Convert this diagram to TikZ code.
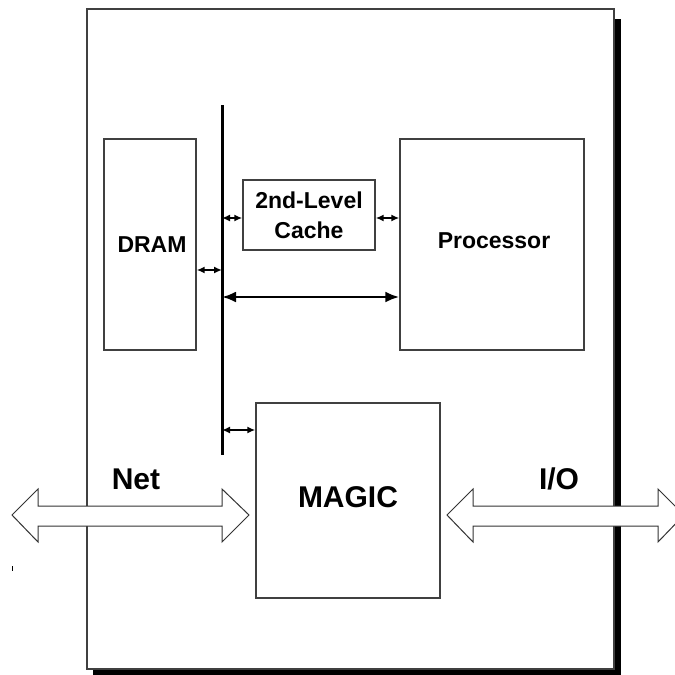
\documentclass[tikz,border=0pt]{standalone}
\usepackage{fontspec}
\setmainfont{Liberation Sans}
\usetikzlibrary{arrows.meta}
\begin{document}
\begin{tikzpicture}[x=1pt,y=-1pt,
  frame/.style={draw=black!75,line width=1.4pt},
  unit/.style={frame,fill=white,inner sep=0pt},
  lbl/.style={font=\fontsize{23}{26}\selectfont\bfseries,align=center},
  biglbl/.style={font=\fontsize{30}{34}\selectfont\bfseries},
  link/.style={line width=1.8pt,{Latex[length=8pt,width=7pt]}-{Latex[length=8pt,width=7pt]}},
  wide/.style={line width=2.6pt,{Latex[length=14pt,width=11pt]}-{Latex[length=14pt,width=11pt]}},
  fat/.style={draw=black!80,line width=1pt,fill=white,line join=miter}]
\useasboundingbox (0,0) rectangle (675,675);

% board with drop shadow
\fill[black] (93,19) rectangle (621,680);
\draw[frame,fill=white] (87,9) rectangle (614,669);

% memory bus
\coordinate (btop) at (222,105);
\coordinate (bbot) at (222,455);
\draw[line width=3pt] (btop) -- (bbot);

% units on the board
\node[unit,minimum width=92pt,minimum height=211pt] (dram) at (150,244.5) {};
\node[lbl] at (152,245) {DRAM};
\node[unit,minimum width=132pt,minimum height=70pt] (cache) at (309,215) {};
\node[lbl,font=\fontsize{23}{30}\selectfont\bfseries] at (cache) {2nd-Level\\Cache};
\node[unit,minimum width=184pt,minimum height=211pt] (cpu) at (492,244.5) {};
\node[lbl] at (494,241) {Processor};
\node[unit,minimum width=184pt,minimum height=195pt] (magic) at (348,500.5) {};
\node[biglbl] at (348,497) {MAGIC};

% bus connections
\draw[link] (dram.east |- 0,270) -- (222,270);
\draw[link] (222,218) -- (cache.west |- 0,218);
\draw[link] (cache.east |- 0,218) -- (cpu.west |- 0,218);
\draw[wide] (222,297) -- (cpu.west |- 0,297);
\draw[link] (222,430) -- (magic.west |- 0,430);

% network and I/O ports
\draw[fat] (12,515) -- (38,489) -- (38,506) -- (222,506) -- (222,489) -- (249,515)
  -- (222,542) -- (222,526) -- (38,526) -- (38,542) -- cycle;
\draw[fat] (447,515) -- (473,489) -- (473,506) -- (658,506) -- (658,489) -- (684,515)
  -- (658,542) -- (658,526) -- (473,526) -- (473,542) -- cycle;
\node[biglbl] (net) at (136,479) {Net};
\node[biglbl] (io) at (559,479) {I/O};

\draw[line width=1pt] (12,566) -- (12,571);
\end{tikzpicture}
\end{document}
